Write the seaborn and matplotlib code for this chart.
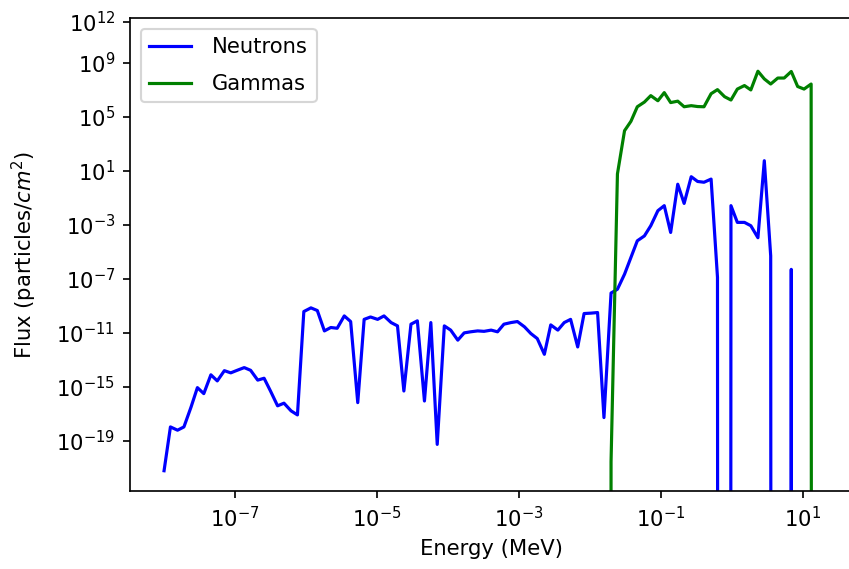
import numpy as np
import pandas as pd
import matplotlib
matplotlib.use("Agg")
import matplotlib.pyplot as plt
import seaborn as sns
from matplotlib.ticker import NullLocator

# Energy bin centres (log10 of MeV)
log10_energy_mev = [
    -8.00, -7.91, -7.81, -7.72, -7.62, -7.53, -7.44, -7.34, -7.25, -7.15,
    -7.06, -6.97, -6.87, -6.78, -6.68, -6.59, -6.50, -6.40, -6.31, -6.21,
    -6.12, -6.03, -5.93, -5.84, -5.74, -5.65, -5.56, -5.46, -5.37, -5.27,
    -5.18, -5.09, -4.99, -4.90, -4.80, -4.71, -4.62, -4.52, -4.43, -4.33,
    -4.24, -4.15, -4.05, -3.96, -3.86, -3.77, -3.68, -3.58, -3.49, -3.39,
    -3.30, -3.21, -3.11, -3.02, -2.92, -2.83, -2.74, -2.64, -2.55, -2.45,
    -2.36, -2.27, -2.17, -2.08, -1.98, -1.89, -1.80, -1.70, -1.61, -1.51,
    -1.42, -1.33, -1.23, -1.14, -1.04, -0.95, -0.86, -0.76, -0.67, -0.57,
    -0.48, -0.39, -0.29, -0.20, -0.10, -0.01, 0.08, 0.18, 0.27, 0.37,
    0.46, 0.55, 0.65, 0.74, 0.84, 0.93, 1.02, 1.12, 1.21,
]

# Flux per bin (particles/cm^2)
neutron_flux = [
    6.3e-22, 1.1e-18, 6.3e-19, 1.1e-18, 3.2e-17, 8.9e-16, 3.2e-16, 7.9e-15, 2.8e-15, 1.6e-14,
    1.1e-14, 1.7e-14, 2.7e-14, 1.7e-14, 3.2e-15, 4.4e-15, 5.0e-16, 4.0e-17, 6.3e-17, 1.7e-17,
    8.5e-18, 3.8e-10, 7.1e-10, 4.5e-10, 1.4e-11, 2.5e-11, 2.2e-11, 1.8e-10, 6.9e-11, 6.9e-17,
    1.0e-10, 1.5e-10, 1.0e-10, 1.8e-10, 5.8e-11, 3.3e-11, 5.0e-16, 4.4e-11, 7.8e-11, 9.1e-17,
    5.8e-11, 5.6e-20, 3.3e-11, 1.6e-11, 2.9e-12, 1.0e-11, 1.2e-11, 1.4e-11, 1.3e-11, 1.6e-11,
    1.2e-11, 4.4e-11, 5.8e-11, 6.9e-11, 2.8e-11, 8.9e-12, 3.8e-12, 2.6e-13, 3.9e-11, 1.6e-11,
    5.8e-11, 1.0e-10, 9.1e-13, 2.7e-10, 2.9e-10, 3.2e-10, 5.4e-18, 8.9e-09, 1.7e-08, 2.2e-07,
    3.8e-06, 6.5e-05, 1.5e-04, 8.5e-04, 1.1e-02, 2.6e-02, 2.7e-04, 1.0e+00, 3.8e-02, 3.6e+00,
    1.6e+00, 1.4e+00, 2.4e+00, 1.3e-07, 0.0, 2.6e-02, 1.5e-03, 1.5e-03, 8.5e-04, 1.1e-04,
    5.5e+01, 5.0e-06, 0.0, 0.0, 5.0e-07, 0.0, 0.0, 0.0, 0.0,
]

gamma_flux = [
    0.0, 0.0, 0.0, 0.0, 0.0, 0.0, 0.0, 0.0, 0.0, 0.0,
    0.0, 0.0, 0.0, 0.0, 0.0, 0.0, 0.0, 0.0, 0.0, 0.0,
    0.0, 0.0, 0.0, 0.0, 0.0, 0.0, 0.0, 0.0, 0.0, 0.0,
    0.0, 0.0, 0.0, 0.0, 0.0, 0.0, 0.0, 0.0, 0.0, 0.0,
    0.0, 0.0, 0.0, 0.0, 0.0, 0.0, 0.0, 0.0, 0.0, 0.0,
    0.0, 0.0, 0.0, 0.0, 0.0, 0.0, 0.0, 0.0, 0.0, 0.0,
    0.0, 0.0, 0.0, 0.0, 0.0, 0.0, 0.0, 3.0e-21, 5.8e+00, 9.1e+03,
    4.5e+04, 5.4e+05, 1.2e+06, 3.6e+06, 1.5e+06, 6.0e+06, 1.1e+06, 1.4e+06, 5.4e+05, 6.5e+05,
    5.6e+05, 5.4e+05, 5.0e+06, 1.0e+07, 3.0e+06, 1.7e+06, 1.1e+07, 2.0e+07, 9.5e+06, 2.3e+08,
    6.2e+07, 2.6e+07, 7.2e+07, 7.2e+07, 2.2e+08, 1.7e+07, 1.1e+07, 2.6e+07, 0.0,
]

x_ticks = [1e-7, 1e-5, 1e-3, 1e-1, 1e1]
y_ticks = [1e-19, 1e-15, 1e-11, 1e-7, 1e-3, 1e1, 1e5, 1e9, 1e12]

energy = 10.0 ** np.array(log10_energy_mev)
neutrons = pd.DataFrame({"Energy": energy, "Flux": neutron_flux})
gammas = pd.DataFrame({"Energy": energy, "Flux": gamma_flux})

DPI = 152
W, H = 849, 569
fig = plt.figure(figsize=(W / DPI, H / DPI), dpi=DPI)
ax = fig.add_axes([130 / W, 1 - 491 / H, 723 / W, 473 / H])

sns.lineplot(data=neutrons, x="Energy", y="Flux", color="blue", label="Neutrons",
             estimator=None, errorbar=None, sort=False, ax=ax)
sns.lineplot(data=gammas, x="Energy", y="Flux", color="green", label="Gammas",
             estimator=None, errorbar=None, sort=False, ax=ax)

ax.set_xscale("log")
ax.set_yscale("log")
ax.set_xlim(10 ** -8.48, 10 ** 1.71)
ax.set_ylim(10 ** -22.7, 10 ** 12.3)
ax.set_xticks(x_ticks)
ax.set_yticks(y_ticks)
ax.xaxis.set_minor_locator(NullLocator())
ax.yaxis.set_minor_locator(NullLocator())

ax.set_xlabel("Energy (MeV)")
ax.set_ylabel("Flux (particles/$cm^2$)", labelpad=8)
ax.legend(loc="upper left", labelspacing=0.8, handletextpad=1.0)

fig.savefig("out.png", dpi=DPI)
